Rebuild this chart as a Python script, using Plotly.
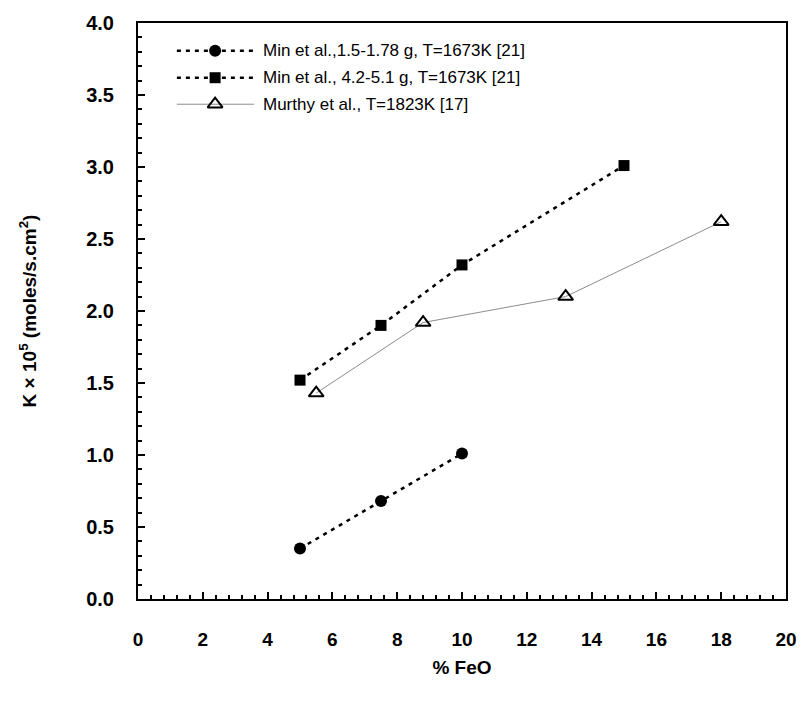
import plotly.graph_objects as go

# Min et al., 1.5-1.78 g, T=1673K
feo_min_small = [5.0, 7.5, 10.0]
k_min_small = [0.35, 0.68, 1.01]

# Min et al., 4.2-5.1 g, T=1673K
feo_min_large = [5.0, 7.5, 10.0, 15.0]
k_min_large = [1.52, 1.90, 2.32, 3.01]

# Murthy et al., T=1823K
feo_murthy = [5.5, 8.8, 13.2, 18.0]
k_murthy = [1.43, 1.92, 2.10, 2.62]

series_names = [
    "Min et al.,1.5-1.78 g, T=1673K [21]",
    "Min et al., 4.2-5.1 g, T=1673K [21]",
    "Murthy et al., T=1823K [17]",
]

x_ticks = list(range(0, 21, 2))
y_ticks = [0.0, 0.5, 1.0, 1.5, 2.0, 2.5, 3.0, 3.5, 4.0]

DASH = "4px,5px"
styles = [
    dict(line=dict(color="black", width=2.5, dash=DASH),
         marker=dict(symbol="circle", size=12, color="black")),
    dict(line=dict(color="black", width=2.5, dash=DASH),
         marker=dict(symbol="square", size=11, color="black")),
    dict(line=dict(color="#8c8c8c", width=1),
         marker=dict(symbol="triangle-up-open", size=13, color="black",
                     line=dict(width=2, color="black"))),
]

fig = go.Figure()
data = [(feo_min_small, k_min_small), (feo_min_large, k_min_large),
        (feo_murthy, k_murthy)]
for (xs, ys), name, st in zip(data, series_names, styles):
    fig.add_trace(go.Scatter(x=xs, y=ys, mode="lines+markers", name=name,
                             showlegend=False, cliponaxis=False, **st))

# Legend drawn inside the plot area on an overlay axis (0..1 each way)
leg_x0, leg_x1, leg_xm, leg_tx = 0.060, 0.179, 0.119, 0.190
leg_rows = [0.952, 0.905, 0.859]
for name, st, ry in zip(series_names, styles, leg_rows):
    fig.add_trace(go.Scatter(x=[leg_x0, leg_x1], y=[ry, ry], mode="lines",
                             line=st["line"], xaxis="x2", yaxis="y2",
                             showlegend=False, hoverinfo="skip"))
    fig.add_trace(go.Scatter(x=[leg_xm], y=[ry], mode="markers",
                             marker=st["marker"], xaxis="x2", yaxis="y2",
                             showlegend=False, hoverinfo="skip"))
    fig.add_annotation(x=leg_tx, y=ry, xref="x2", yref="y2", text=name,
                       showarrow=False, xanchor="left", yanchor="middle",
                       font=dict(family="Liberation Sans, Arial", size=17,
                                 color="black"))

axis_font = dict(family="Liberation Sans, Arial", size=19, color="black")

fig.update_layout(
    width=809, height=704,
    margin=dict(l=138, r=18, t=18, b=105),
    paper_bgcolor="white", plot_bgcolor="white",
    xaxis=dict(
        range=[0, 20], tickvals=x_ticks, ticktext=[str(v) for v in x_ticks],
        ticks="inside", ticklen=7, tickwidth=1.5, tickcolor="black",
        minor=dict(dtick=0.4, ticks="inside", ticklen=4, tickwidth=1.5,
                   tickcolor="black"),
        showline=True, linecolor="black", linewidth=2, mirror=True,
        showgrid=False, zeroline=False,
        tickfont=dict(family="Liberation Sans, Arial", size=19,
                      color="black", weight="bold"),
        ticklabelstandoff=22,
        title=dict(text="<b>% FeO</b>", font=axis_font, standoff=12),
    ),
    yaxis=dict(
        range=[0, 4], tickvals=y_ticks,
        ticktext=[f"{v:.1f}" for v in y_ticks],
        ticks="inside", ticklen=7, tickwidth=1.5, tickcolor="black",
        minor=dict(dtick=0.1, ticks="inside", ticklen=4, tickwidth=1.5,
                   tickcolor="black"),
        showline=True, linecolor="black", linewidth=2, mirror=True,
        showgrid=False, zeroline=False,
        tickfont=dict(family="Liberation Sans, Arial", size=20,
                      color="black", weight="bold"),
        ticklabelstandoff=18,
        title=dict(text="<b>K \u00d7 10<sup>5</sup> (moles/s.cm<sup>2</sup>)</b>",
                   font=axis_font, standoff=45),
    ),
    xaxis2=dict(overlaying="x", range=[0, 1], visible=False),
    yaxis2=dict(overlaying="y", range=[0, 1], visible=False),
)

fig.write_html("out.html")
